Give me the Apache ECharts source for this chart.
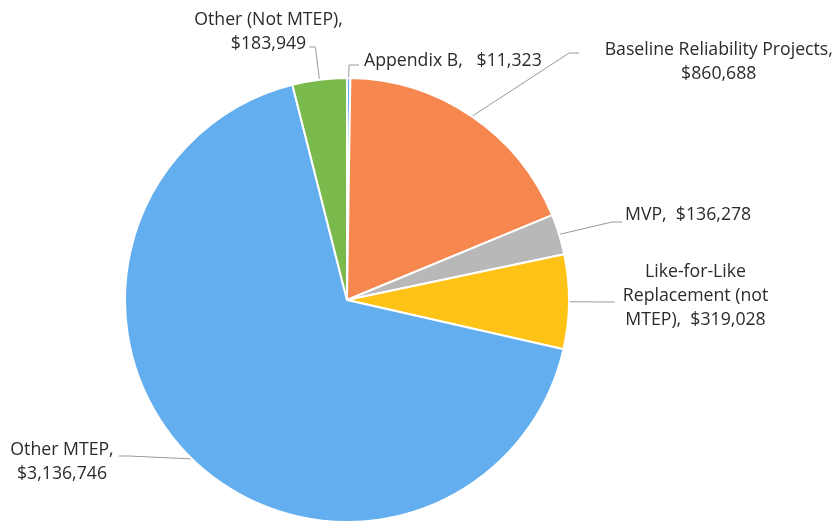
<!DOCTYPE html>
<html>
<head>
<meta charset="utf-8">
<script src="https://cdn.jsdelivr.net/npm/echarts@6/dist/echarts.min.js"></script>
<style>html,body{margin:0;padding:0;background:#fff}#c{width:840px;height:525px}</style>
</head>
<body>
<div id="c"></div>
<script>
// ---- data ----
const categories = ['Appendix B', 'Baseline Reliability Projects', 'MVP', 'Like-for-Like Replacement (not MTEP)', 'Other MTEP', 'Other (Not MTEP)'];
const values = [11323, 860688, 136278, 319028, 3136746, 183949];
const labelTexts = [
  'Appendix B,   $11,323',
  'Baseline Reliability Projects,\n$860,688',
  'MVP,  $136,278',
  'Like-for-Like\nReplacement (not\nMTEP),  $319,028',
  'Other MTEP,\n$3,136,746',
  '{c|Other (Not MTEP),}\n{c|$183,949}'
];
// ---- styles / layout ----
const colors = ['#6AB2EC', '#F5874F', '#B8B8B8', '#FFC317', '#62AEEE', '#7AB94C'];
const labelPos = [
  {x: 359, y: 65, align: 'left'},
  {x: 706, y: 53, align: 'center'},
  {x: 622, y: 222, align: 'left'},
  {x: 691.5, y: 302, align: 'center'},
  {x: 64.5, y: 456, align: 'center'},
  null
];
const labelPad = [
  [0, 0, 8, 5],
  [18, 0, 0, 25.5],
  [0, 0, 14, 3],
  [0, 0, 12, 8],
  [11, 5, 0, 0],
  [0, 0, 30, 0]
];
const FONT = 'Open Sans', FS = 17.7, LH = 24;

const chart = echarts.init(document.getElementById('c'), null, {renderer: 'canvas'});
chart.setOption({
  animation: false,
  backgroundColor: '#ffffff',
  series: [{
    type: 'pie',
    center: [347, 300],
    radius: 222,
    startAngle: 90,
    clockwise: true,
    avoidLabelOverlap: false,
    data: categories.map((c, i) => {
      const d = {name: c, value: values[i], itemStyle: {color: colors[i]}, label: {padding: labelPad[i]}};
      if (i === 5) {
        d.label.distanceToLabelLine = -33.5;
        d.labelLine = {length: 33, length2: 6};
      }
      return d;
    }),
    itemStyle: {borderColor: '#ffffff', borderWidth: 2},
    label: {
      show: true,
      position: 'outside',
      formatter: p => labelTexts[p.dataIndex],
      fontFamily: FONT,
      fontSize: FS,
      lineHeight: LH,
      color: '#2b2b2b',
      rich: {c: {align: 'center', fontFamily: FONT, fontSize: FS, lineHeight: LH, color: '#2b2b2b'}}
    },
    labelLine: {show: true, length: 10, length2: 10, lineStyle: {color: '#9a9a9a', width: 1}},
    labelLayout: p => labelPos[p.dataIndex] ? Object.assign({verticalAlign: 'middle'}, labelPos[p.dataIndex]) : {}
  }]
});
</script>
</body>
</html>
